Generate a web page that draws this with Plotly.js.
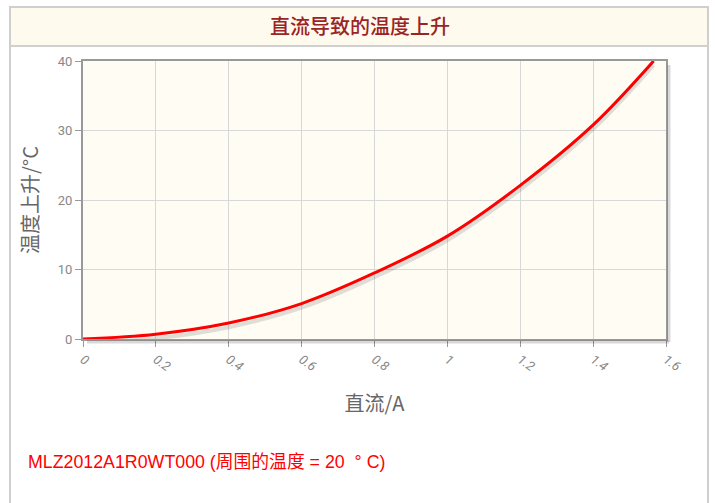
<!DOCTYPE html>
<html><head><meta charset="utf-8">
<script src="https://cdn.plot.ly/plotly-3.0.1.min.js"></script>
<style>html,body{margin:0;padding:0;background:#fff;}#chart{width:715px;height:503px;}</style>
</head><body><div id="chart"></div>
<script>
const currentA = [0, 0.2, 0.4, 0.6, 0.8, 1.0, 1.2, 1.4, 1.566];
const tempRise = [0, 0.7, 2.3, 5.1, 9.5, 14.8, 22.1, 30.8, 40.0];
const xTicks = [0, 0.2, 0.4, 0.6, 0.8, 1, 1.2, 1.4, 1.6];
const xTickText = ['0', '0.2', '0.4', '0.6', '0.8', '1', '1.2', '1.4', '1.6'];
const yTicks = [0, 10, 20, 30, 40];
const chartTitle = '直流导致的温度上升';
const xTitle = '直流/A';
const yTitle = '温度上升/°C';
const noteText = 'MLZ2012A1R0WT000 (周围的温度 = 20  ° C)';

const L = 83, R = 666, T = 61, B = 339;
const px = v => (v - L) / (R - L);
const py = v => (B - v) / (B - T);

const trace = {
  x: currentA, y: tempRise, type: 'scatter', mode: 'lines',
  line: {color: '#ff0000', width: 3, shape: 'spline', smoothing: 1}, hoverinfo: 'skip'
};
const shadow = {
  x: currentA, y: tempRise, type: 'scatter', mode: 'lines',
  line: {color: 'rgba(0,0,0,0.12)', width: 4, shape: 'spline', smoothing: 1}, hoverinfo: 'skip', xaxis: 'x2', yaxis: 'y2'
};

const layout = {
  width: 715, height: 503,
  margin: {l: L, r: 715 - R, t: T, b: 503 - B},
  paper_bgcolor: '#ffffff', plot_bgcolor: '#fffcf4',
  showlegend: false,
  font: {family: 'Roboto, "Noto Sans CJK SC", sans-serif', color: '#666'},
  title: {text: chartTitle, x: px(360), xref: 'paper', xanchor: 'center', y: 1 - 27/503, yanchor: 'middle',
          font: {size: 20, weight: 500, color: '#9a2424', family: '"Noto Sans CJK SC", sans-serif'}},
  xaxis: {
    range: [0, 1.6], tickvals: xTicks, ticktext: xTickText, tickangle: 35,
    showgrid: true, gridcolor: '#d8d8d8', gridwidth: 1,
    showline: true, linecolor: '#999', linewidth: 2, mirror: true,
    ticks: 'outside', ticklen: 6, tickcolor: '#999', zeroline: false,
    tickfont: {size: 13, color: '#888', style: 'italic', family: 'Roboto, sans-serif'},
    title: {text: xTitle, standoff: 24, font: {size: 20, color: '#666', family: '"Noto Sans CJK SC", sans-serif'}}
  },
  yaxis: {
    range: [0, 40], tickvals: yTicks,
    showgrid: true, gridcolor: '#d8d8d8', gridwidth: 1,
    showline: true, linecolor: '#999', linewidth: 2, mirror: true,
    ticks: 'outside', ticklen: 6, tickcolor: '#999', zeroline: false,
    tickfont: {size: 13, color: '#888', family: 'Roboto, sans-serif'},
    title: {text: yTitle, standoff: 14, font: {size: 20, color: '#666', family: '"Noto Sans CJK SC", sans-serif'}}
  },
  xaxis2: {range: [0, 1.6], overlaying: 'x', visible: false, fixedrange: true},
  yaxis2: {range: [0.6, 40.6], overlaying: 'y', visible: false, fixedrange: true},
  shapes: [
    {type: 'rect', xref: 'paper', yref: 'paper', x0: px(10), x1: px(708), y0: py(7), y1: py(46),
     fillcolor: '#fffaee', line: {color: '#cfcfcf', width: 2}, layer: 'below'},
    {type: 'line', xref: 'paper', yref: 'paper', x0: px(10), x1: px(10), y0: py(46), y1: py(503),
     line: {color: '#cfcfcf', width: 2}},
    {type: 'line', xref: 'paper', yref: 'paper', x0: px(708), x1: px(708), y0: py(46), y1: py(503),
     line: {color: '#cfcfcf', width: 2}},
    {type: 'line', xref: 'paper', yref: 'paper', x0: px(R + 3), x1: px(R + 3), y0: py(T + 4), y1: py(B + 3),
     line: {color: 'rgba(0,0,0,0.15)', width: 3}},
    {type: 'line', xref: 'paper', yref: 'paper', x0: px(L + 4), x1: px(R + 3), y0: py(B + 3), y1: py(B + 3),
     line: {color: 'rgba(0,0,0,0.15)', width: 3}}
  ],
  annotations: [
    {text: noteText, xref: 'paper', yref: 'paper', x: px(26), y: py(462), xanchor: 'left', yanchor: 'middle',
     showarrow: false, font: {size: 17.8, color: '#ff0000', family: 'Arial, "Liberation Sans", "Noto Sans CJK SC", sans-serif'}}
  ]
};

Plotly.newPlot('chart', [shadow, trace], layout, {displayModeBar: false, staticPlot: true});
</script></body></html>
